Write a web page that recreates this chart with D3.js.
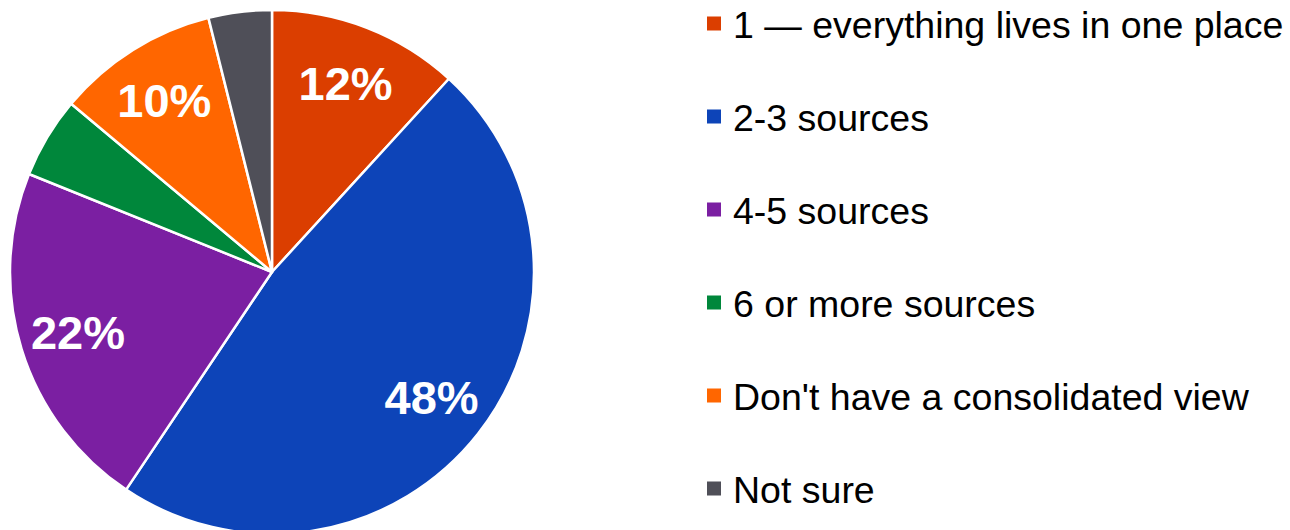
<!DOCTYPE html>
<html>
<head>
<meta charset="utf-8">
<script src="https://cdn.jsdelivr.net/npm/d3@7"></script>
<style>
  html, body { margin: 0; padding: 0; background: #fff; }
  svg { display: block; }
</style>
</head>
<body>
<svg id="chart" width="1290" height="530"></svg>
<script>
const categories = ["1 \u2014 everything lives in one place", "2-3 sources", "4-5 sources", "6 or more sources", "Don't have a consolidated view", "Not sure"];
const values = [11.8, 47.6, 21.7, 5.0, 10.0, 3.9];
const labels = ["12%", "48%", "22%", "", "10%", ""];
const colors = ["#DB3E00", "#0D44B8", "#7B1FA2", "#00873B", "#FF6600", "#4F4F58"];

const svg = d3.select("#chart");
const cx = 272, cy = 272, R = 262;

const data = categories.map((c, i) => ({ name: c, value: values[i], label: labels[i], color: colors[i] }));
const pie = d3.pie().value(d => d.value).sort(null);
const arcs = pie(data);
const arc = d3.arc().innerRadius(0).outerRadius(R);
const labelArc = d3.arc().innerRadius(203).outerRadius(203);

const g = svg.append("g").attr("transform", `translate(${cx},${cy})`);
g.selectAll("path").data(arcs).join("path")
  .attr("d", arc)
  .attr("fill", d => d.data.color)
  .attr("stroke", "#fff")
  .attr("stroke-width", 2.5)
  .attr("stroke-linejoin", "round");

g.selectAll("text").data(arcs.filter(d => d.data.label)).join("text")
  .attr("transform", d => `translate(${labelArc.centroid(d)})`)
  .attr("text-anchor", "middle")
  .attr("dy", "0.36em")
  .attr("font-family", "Liberation Sans, Arial, sans-serif")
  .attr("font-weight", "bold")
  .attr("font-size", 47)
  .attr("fill", "#fff")
  .text(d => d.data.label);

const legendY = d3.scalePoint().domain(categories).range([23.5, 488.5]);
const leg = svg.append("g");
const items = leg.selectAll("g").data(data).join("g")
  .attr("transform", d => `translate(0,${legendY(d.name)})`);
items.append("rect")
  .attr("x", 707).attr("y", -7).attr("width", 14).attr("height", 14)
  .attr("fill", d => d.color);
items.append("text")
  .attr("x", 733).attr("y", 14)
  .attr("font-family", "Liberation Sans, Arial, sans-serif")
  .attr("font-size", 37.5)
  .attr("fill", "#000")
  .text(d => d.name);
</script>
</body>
</html>
